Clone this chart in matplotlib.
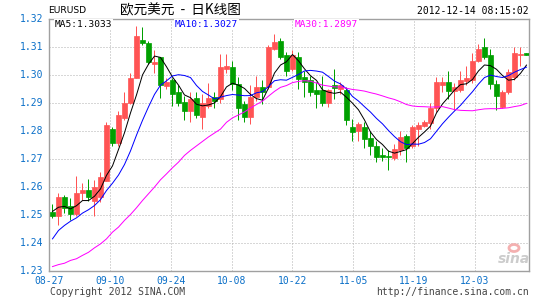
import numpy as np
import pandas as pd
import matplotlib
matplotlib.use('Agg')
import matplotlib.pyplot as plt
from matplotlib.patches import Ellipse

# EURUSD daily candles, 2012-08-27 .. 2012-12-14
opens = [
    1.2508, 1.2494, 1.2562, 1.2529, 1.2502, 1.2576, 1.2586, 1.2548, 1.2562, 1.2621,
    1.2807, 1.2755, 1.2846, 1.2899, 1.2987, 1.3125, 1.3113, 1.3039, 1.3064, 1.2958,
    1.2979, 1.2936, 1.2901, 1.2871, 1.2915, 1.2848, 1.2887, 1.2919, 1.2913, 1.3018,
    1.3026, 1.2967, 1.2893, 1.2848, 1.2919, 1.2955, 1.2955, 1.3092, 1.3121, 1.3068,
    1.3020, 1.3062, 1.2990, 1.2979, 1.2943, 1.2943, 1.2899, 1.2963, 1.2949, 1.2943,
    1.2812, 1.2800, 1.2812, 1.2774, 1.2746, 1.2711, 1.2708, 1.2702, 1.2729, 1.2779,
    1.2746, 1.2806, 1.2815, 1.2827, 1.2880, 1.2964, 1.2973, 1.2940, 1.2943, 1.2976,
    1.2979, 1.3050, 1.3098, 1.3068, 1.2967, 1.2883, 1.2937, 1.2990, 1.3070, 1.3077,
]
closes = [
    1.2494, 1.2562, 1.2523, 1.2502, 1.2576, 1.2586, 1.2562, 1.2600, 1.2633, 1.2818,
    1.2755, 1.2854, 1.2900, 1.2987, 1.3139, 1.3113, 1.3044, 1.3046, 1.2963, 1.2973,
    1.2929, 1.2899, 1.2871, 1.2914, 1.2856, 1.2900, 1.2915, 1.2907, 1.3026, 1.3030,
    1.2967, 1.2880, 1.2848, 1.2919, 1.2955, 1.2939, 1.3098, 1.3115, 1.3062, 1.3014,
    1.3068, 1.2985, 1.2972, 1.2939, 1.2931, 1.2899, 1.2943, 1.2951, 1.2961, 1.2839,
    1.2794, 1.2824, 1.2770, 1.2746, 1.2705, 1.2705, 1.2705, 1.2735, 1.2776, 1.2738,
    1.2812, 1.2818, 1.2830, 1.2880, 1.2973, 1.2973, 1.2940, 1.2955, 1.2979, 1.2987,
    1.3050, 1.3092, 1.3062, 1.2967, 1.2922, 1.2939, 1.3008, 1.3077, 1.3074, 1.3070,
]
highs = [
    1.2536, 1.2576, 1.2571, 1.2560, 1.2636, 1.2612, 1.2626, 1.2625, 1.2651, 1.2830,
    1.2814, 1.2871, 1.2936, 1.3004, 1.3175, 1.3171, 1.3121, 1.3086, 1.3064, 1.2987,
    1.2986, 1.2961, 1.2925, 1.2937, 1.2936, 1.2932, 1.2968, 1.2936, 1.3075, 1.3075,
    1.3050, 1.2990, 1.2907, 1.2961, 1.2996, 1.2979, 1.3104, 1.3143, 1.3130, 1.3079,
    1.3086, 1.3079, 1.3014, 1.2996, 1.2973, 1.2996, 1.2950, 1.3021, 1.2973, 1.2955,
    1.2842, 1.2830, 1.2829, 1.2800, 1.2764, 1.2738, 1.2732, 1.2753, 1.2800, 1.2788,
    1.2820, 1.2830, 1.2836, 1.2899, 1.2990, 1.2990, 1.3011, 1.2971, 1.3011, 1.3030,
    1.3077, 1.3110, 1.3130, 1.3092, 1.2979, 1.2946, 1.3021, 1.3098, 1.3098, 1.3077,
]
lows = [
    1.2486, 1.2461, 1.2504, 1.2481, 1.2493, 1.2553, 1.2550, 1.2496, 1.2544, 1.2619,
    1.2746, 1.2746, 1.2836, 1.2893, 1.2986, 1.3107, 1.3038, 1.3004, 1.2915, 1.2950,
    1.2889, 1.2889, 1.2836, 1.2829, 1.2843, 1.2807, 1.2879, 1.2882, 1.2900, 1.3007,
    1.2943, 1.2839, 1.2832, 1.2825, 1.2907, 1.2896, 1.2950, 1.3086, 1.3054, 1.2996,
    1.3014, 1.2950, 1.2919, 1.2922, 1.2880, 1.2889, 1.2883, 1.2914, 1.2931, 1.2818,
    1.2762, 1.2762, 1.2736, 1.2711, 1.2687, 1.2690, 1.2660, 1.2693, 1.2711, 1.2687,
    1.2736, 1.2746, 1.2811, 1.2806, 1.2865, 1.2937, 1.2911, 1.2874, 1.2936, 1.2961,
    1.2971, 1.3043, 1.3056, 1.2949, 1.2875, 1.2879, 1.2932, 1.2979, 1.3032, 1.3070,
]

# moving average values before a full window exists (need older closes)
ma5_head = [1.2511, 1.2526, 1.2529, 1.2520]
ma10_head = [1.2413, 1.2443, 1.2461, 1.2476, 1.2488, 1.2505, 1.2517, 1.2532, 1.2553]
ma30_head = [1.2314, 1.2321, 1.2326, 1.2336, 1.2342, 1.2354, 1.2365, 1.2381, 1.2395, 1.2413,
             1.2437, 1.2455, 1.2479, 1.2500, 1.2524, 1.2550, 1.2574, 1.2598, 1.2624, 1.2645,
             1.2667, 1.2687, 1.2711, 1.2729, 1.2745, 1.2761, 1.2777, 1.2791, 1.2805]

date_labels = ['08-27', '09-10', '09-24', '10-08', '10-22', '11-05', '11-19', '12-03']
y_ticks = [1.23, 1.24, 1.25, 1.26, 1.27, 1.28, 1.29, 1.30, 1.31, 1.32]

RED = '#ff5454'
GREEN = '#00a000'
BLUE_TXT = '#0a6fc8'
MONO = 'DejaVu Sans Mono'
PX = 0.72  # one pixel in points at dpi 100


def moving_avg(n, head):
    s = pd.Series(closes).rolling(n).mean().values
    s[:len(head)] = head
    return s


o = np.array(opens)
c = np.array(closes)
h = np.array(highs)
l = np.array(lows)
x = np.arange(len(c))
colors = np.where(c >= o, RED, GREEN)

fig = plt.figure(figsize=(5.45, 3.0), dpi=100)
fig.patch.set_facecolor('white')
ax = fig.add_axes([49.2 / 545, 29.5 / 300, 479.8 / 545, 252 / 300])

# candles
ax.vlines(x, l, h, colors=colors, lw=PX, zorder=2)
body_bot = np.minimum(o, c)
body_h = np.maximum(np.abs(c - o), 0.0002)
ax.bar(x, body_h, bottom=body_bot, width=0.72, color=colors, edgecolor=colors,
       linewidth=0.5, zorder=3)

# moving averages
ax.plot(x, moving_avg(5, ma5_head), color='black', lw=PX, zorder=4)
ax.plot(x, moving_avg(10, ma10_head), color='#0000ff', lw=PX, zorder=4)
ax.plot(x, moving_avg(30, ma30_head), color='#ff00ff', lw=PX, zorder=4)

tick_pos = np.arange(len(date_labels)) * 10.133 - 0.55
ax.set_xlim(-0.55, 79.42)
ax.set_ylim(1.23, 1.32)
ax.set_xticks(tick_pos)
ax.set_xticklabels(date_labels)
ax.set_yticks(y_ticks)
ax.set_yticklabels(['%.2f' % v for v in y_ticks])
ax.tick_params(length=0, labelsize=7, labelcolor=BLUE_TXT, pad=4)
for lab in ax.get_xticklabels() + ax.get_yticklabels():
    lab.set_family(MONO)
ax.grid(True, linestyle=(0, (1, 2)), color='#b0b0b0', lw=PX, zorder=0)
ax.set_axisbelow(True)
for sp in ax.spines.values():
    sp.set_color('#a0a0a0')
    sp.set_linewidth(1.0)

# header
def px_text(px, py, s, **kw):
    fig.text(px / 545, 1 - py / 300, s, va='center', **kw)

px_text(48, 10.5, 'EURUSD', fontsize=6.6, color='black', family='DejaVu Sans')
px_text(120, 10, '欧元美元  -  日K线图', fontsize=9.8, color='black',
        family=['Noto Sans CJK SC', 'DejaVu Sans'])
px_text(529, 11.5, '2012-12-14 08:15:02', fontsize=7, color='black', family=MONO, ha='right')

# MA legend inside the box
box = dict(facecolor='white', edgecolor='none', pad=0.6)
px_text(55, 24.5, 'MA5:1.3033', fontsize=6.8, color='black', family=MONO, bbox=box, zorder=5)
px_text(175, 24.5, 'MA10:1.3027', fontsize=6.8, color='#0000ff', family=MONO, bbox=box, zorder=5)
px_text(295, 24.5, 'MA30:1.2897', fontsize=6.8, color='#ff00ff', family=MONO, bbox=box, zorder=5)

# footer
px_text(50, 292, 'Copyright 2012 SINA.COM', fontsize=7, color='#444444', family=MONO)
px_text(529, 292, 'http://finance.sina.com.cn', fontsize=7, color='#444444', family=MONO, ha='right')

# sina watermark
px_text(498, 259, 'sina', fontsize=10, color='#cccccc', family='DejaVu Sans',
        weight='bold', style='italic')
fig.add_artist(Ellipse((514 / 545, 1 - 248 / 300), 10 / 545, 7 / 300,
                       facecolor='none', edgecolor='#f4b0b0', lw=2.0,
                       transform=fig.transFigure))

fig.savefig('out.png', dpi=100, facecolor='white')
